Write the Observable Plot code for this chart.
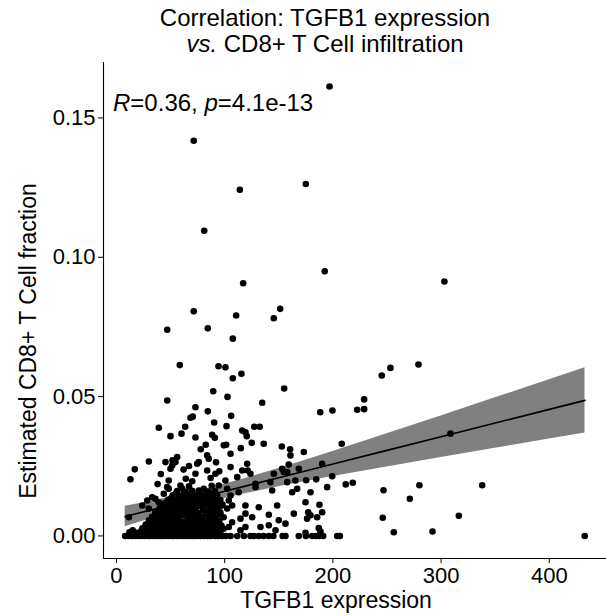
<!DOCTYPE html>
<html>
<head>
<meta charset="utf-8">
<script src="https://cdn.jsdelivr.net/npm/d3@7"></script>
<script src="https://cdn.jsdelivr.net/npm/@observablehq/plot@0.6"></script>
<style>
  body { margin: 0; background: #fff; }
  #wrap { position: relative; width: 606px; height: 616px; overflow: hidden;
          font-family: "Liberation Sans", Arial, sans-serif; color: #000; }
  #wrap svg { position: absolute; left: 0; top: 0; }
  .lbl { position: absolute; white-space: nowrap; text-align: center; }
  #title { left: 0; width: 650px; top: 5px; font-size: 24px; line-height: 26px; }
  #xlab { left: 136px; width: 400px; top: 587px; font-size: 23px; line-height: 26px; }
  #ylab { left: -172px; width: 400px; top: 328px; font-size: 23px; line-height: 26px; transform: rotate(-90deg); }
  #stat { left: 113px; top: 91px; font-size: 24px; line-height: 24px; text-align: left; }
</style>
</head>
<body>
<div id="wrap">
  <div id="chart"></div>
  <div class="lbl" id="title">Correlation: TGFB1 expression<br><i>vs.</i> CD8+ T Cell infiltration</div>
  <div class="lbl" id="xlab">TGFB1 expression</div>
  <div class="lbl" id="ylab">Estimated CD8+ T Cell fraction</div>
  <div class="lbl" id="stat"><i>R</i>=0.36, <i>p</i>=4.1e-13</div>
</div>
<script>
// ---- tick labels / axis settings ----
const xTicks = [0, 100, 200, 300, 400];
const yTicks = [0, 0.05, 0.10, 0.15];
const xDomain = [-12, 452.9];
const yDomain = [-0.0081, 0.1699];

// ---- samples with zero estimated CD8+ fraction (TGFB1 expression) ----
const zeroFractionTGFB1 = [8, 11, 14, 17, 20, 23, 26, 29, 31, 34, 37, 40, 42, 45, 48, 51, 53, 56, 59, 62,
  64, 67, 70, 72, 75, 78, 81, 84, 87, 91, 94, 97.5, 101, 105.4, 111.6, 117.7, 123.8, 127, 131.5, 136,
  140.8, 145, 153.6, 156.2, 168.5, 175, 180.9, 184.6, 187.6, 191, 204, 206.5, 432.8];

// ---- dense low-fraction cluster [TGFB1, CD8 fraction] ----
const denseCluster = [
  [12,.0013],[19,.0011],[27,.0014],[33,.0010],[39,.0013],[46,.0012],[52,.0015],[58,.0011],[65,.0013],[71,.0010],[77,.0014],[83,.0012],[90,.0011],[96,.0014],
  [24,.0027],[30,.0024],[36,.0028],[43,.0025],[49,.0027],[55,.0029],[61,.0024],[68,.0026],[74,.0028],[80,.0025],[86,.0027],[93,.0024],[99,.0026],
  [27,.0041],[34,.0038],[40,.0042],[47,.0040],[53,.0037],[59,.0043],[64,.0039],[71,.0041],[78,.0038],[84,.0042],[91,.0040],[97,.0037],
  [30,.0056],[37,.0053],[44,.0057],[50,.0054],[57,.0056],[62,.0052],[69,.0058],[75,.0055],[82,.0053],[88,.0057],[95,.0054],
  [33,.0069],[39,.0072],[46,.0068],[52,.0071],[60,.0073],[66,.0069],[72,.0071],[79,.0068],[86,.0072],[92,.0070],[99,.0067],
  [36,.0086],[43,.0083],[49,.0087],[55,.0084],[63,.0086],[69,.0088],[76,.0083],[83,.0085],[89,.0087],[96,.0084],
  [40,.0101],[46,.0098],[53,.0102],[59,.0099],[66,.0101],[73,.0097],[80,.0102],[87,.0100],[94,.0098],
  [44,.0116],[50,.0113],[57,.0117],[63,.0114],[70,.0116],[77,.0112],[84,.0117],[91,.0115],[98,.0113],
  [48,.0131],[55,.0128],[61,.0132],[68,.0129],[75,.0131],[82,.0128],[89,.0132],[96,.0129],
  [52,.0146],[58,.0143],[66,.0147],[72,.0144],[79,.0146],[87,.0143],[93,.0147],
  [56,.0161],[64,.0158],[70,.0162],[85,.0159],[91,.0161],
  [67,.0178],[88,.0180]
];
const denseClusterFill = [
  [15,.0020],[23,.0018],[30,.0019],[36,.0017],[42,.0020],[49,.0018],[55,.0019],[62,.0021],[68,.0018],[74,.0020],[80,.0017],[87,.0019],[93,.0020],
  [27,.0034],[33,.0032],[40,.0035],[46,.0033],[52,.0031],[58,.0034],[65,.0035],[71,.0032],[77,.0034],[83,.0033],[90,.0031],[96,.0035],
  [31,.0047],[37,.0049],[44,.0046],[50,.0048],[56,.0050],[62,.0046],[68,.0048],[75,.0047],[81,.0049],[88,.0046],[94,.0048],
  [34,.0063],[41,.0061],[47,.0064],[54,.0062],[66,.0063],[72,.0061],[79,.0064],[85,.0062],[92,.0060],
  [36,.0078],[43,.0076],[49,.0079],[56,.0077],[63,.0075],[69,.0078],[76,.0077],[83,.0079],[89,.0076],[96,.0078],
  [40,.0093],[46,.0091],[52,.0094],[59,.0092],[66,.0090],[72,.0093],[80,.0091],[86,.0094],[93,.0092],
  [43,.0108],[50,.0106],[56,.0109],[62,.0107],[69,.0105],[76,.0108],[83,.0110],[90,.0106],[97,.0108],
  [47,.0123],[53,.0121],[60,.0124],[66,.0122],[73,.0120],[80,.0123],[87,.0121],[94,.0124],
  [51,.0138],[58,.0136],[64,.0139],[71,.0137],[78,.0135],[85,.0138],[92,.0136],
  [55,.0153],[62,.0151],[69,.0154],[76,.0152],[83,.0150],[90,.0153]
];

// ---- remaining individually read samples [TGFB1, CD8 fraction] ----
const scatteredSamples = [
  [196.9,0.1613],[71.4,0.1418],[114.0,0.1242],[175.0,0.1263],[81.1,0.1095],[192.5,0.0950],[117.1,0.0907],[71.4,0.0806],[110.6,0.0791],[151.3,0.0815],[145.4,0.0781],[46.9,0.0740],[84.4,0.0745],[107.5,0.0708],
  [58.5,0.0613],[94.3,0.0609],[100.7,0.0605],[89.4,0.0519],[46.9,0.0486],[102.6,0.0499],[73.0,0.0462],[84.4,0.0447],[68.4,0.0424],[70.5,0.0428],[90.3,0.0407],[39.1,0.0388],[63.5,0.0392],[101.7,0.0394],[49.9,0.0358],[60.1,0.0367],[73.0,0.0353],[88.4,0.0363],[90.9,0.0352],[82.5,0.0327],[77.9,0.0311],[101.4,0.0327],
  [115.5,0.0582],[107.5,0.0566],[155.0,0.0529],[134.7,0.0478],[188.3,0.0444],[199.6,0.0450],[106.0,0.0431],[116.2,0.0378],[119.2,0.0372],[120.4,0.0358],[127.3,0.0392],[132.4,0.0392],[114.9,0.0315],[125.0,0.0334],[136.1,0.0331],[152.8,0.0321],[160.5,0.0311],[208.2,0.0331],
  [303.1,0.0913],[245.2,0.0576],[253.2,0.0603],[279.1,0.0615],[222.5,0.0453],[228.9,0.0455],[228.9,0.0490],[308.7,0.0367],[211.9,0.0185],[218.4,0.0191],[246.8,0.0164],[280.0,0.0182],[338.0,0.0182],[271.1,0.0133],[246.1,0.0065],[316.4,0.0072],[256.3,0.0013],[292.1,0.0016],
  [159.2,0.0256],[168.5,0.0241],[190.1,0.0259],[157.8,0.0229],[165.4,0.0199],[175.3,0.0200],[184.6,0.0203],[199.4,0.0214],[167.0,0.0169],[162.4,0.0157],[194.7,0.0175],[174.7,0.0121],[187.6,0.0112],[163.9,0.0080],[177.2,0.0085],[179.3,0.0074],[176.2,0.0062],[185.5,0.0067],[190.1,0.0085],[156.2,0.0044],[187.0,0.0028],[188.5,0.0016],[174.7,0.0011],
  [105.4,0.0247],[116.2,0.0235],[121.3,0.0235],[123.8,0.0223],[120.8,0.0259],[111.6,0.0211],[100.7,0.0199],[128.5,0.0187],[128.5,0.0175],[143.9,0.0163],[113.0,0.0157],[105.4,0.0145],[103.8,0.0127],[106.9,0.0109],[102.3,0.0098],[119.2,0.0109],[131.5,0.0103],[148.5,0.0109],[125.4,0.0067],[114.6,0.0062],[140.8,0.0076],[150.0,0.0056],[106.9,0.0049],[103.8,0.0032],[119.2,0.0032],[114.6,0.0020],[133.1,0.0032],[140.8,0.0038],[147.0,0.0020],
  [56.1,0.0283],[54.5,0.0265],[76.1,0.0265],[85.3,0.0277],[83.8,0.0235],[73.0,0.0223],[48.3,0.0199],[59.1,0.0181],[60.7,0.0169],[48.3,0.0169],[76.1,0.0163],[80.7,0.0169],[94.5,0.0181],[102.3,0.0169],
  [29.9,0.0267],[16.9,0.0239],[12.9,0.0203],[45.3,0.0265],[46.9,0.0175],[43.7,0.0151],[28.4,0.0127],[33.0,0.0139],[36.0,0.0133],[39.1,0.0121],[23.8,0.0109],[29.9,0.0098],[11.4,0.0067],
  [51.8,0.0271],[51.5,0.0253],[49.9,0.0241],[83.8,0.0289],[74.6,0.0259],[91.5,0.0223],[99.2,0.0325],
  [160.8,0.0289],[105.4,0.0295],[173.1,0.0301],[145.4,0.0223],[153.1,0.0241],[154.6,0.0229],[142.3,0.0193],[157.8,0.0193],[179.3,0.0157],[119.2,0.0080],
  [64,0.0205],[70,0.0196],[87,0.0208],[95,0.0232],[62,0.0238],[67,0.0251],[92,0.0264],[41,0.0222],[38,0.0186]
];

// ---- linear fit and 95% confidence band ----
const fitTGFB1 = [8, 30, 60, 90, 120, 160, 200, 250, 300, 350, 400, 433];
const fitCD8   = [0.00697, 0.00913, 0.01207, 0.01502, 0.01796, 0.02188, 0.02580, 0.03071, 0.03561, 0.04051, 0.04542, 0.04865];
const fitLower = [0.00333, 0.00598, 0.00940, 0.01252, 0.01524, 0.01842, 0.02132, 0.02478, 0.02815, 0.03147, 0.03477, 0.03694];
const fitUpper = [0.01061, 0.01228, 0.01474, 0.01752, 0.02068, 0.02534, 0.03028, 0.03664, 0.04307, 0.04955, 0.05607, 0.06036];

// ---- build tables ----
const points = [
  ...zeroFractionTGFB1.map(x => ({x, y: 0})),
  ...denseCluster.map(([x, y]) => ({x, y})),
  ...denseClusterFill.map(([x, y]) => ({x, y})),
  ...scatteredSamples.map(([x, y]) => ({x, y}))
];
const fit = fitTGFB1.map((x, i) => ({x, y: fitCD8[i], lo: fitLower[i], hi: fitUpper[i]}));

const chart = Plot.plot({
  width: 606,
  height: 616,
  marginLeft: 103,
  marginRight: 0,
  marginTop: 62,
  marginBottom: 58,
  style: {fontFamily: "'Liberation Sans', Arial, sans-serif", fontSize: "22px", background: "white", color: "black"},
  x: {domain: xDomain, label: null},
  y: {domain: yDomain, label: null},
  marks: [
    Plot.areaY(fit, {x: "x", y1: "lo", y2: "hi", fill: "#808080"}),
    Plot.dot(points, {x: "x", y: "y", r: 3.3, fill: "black", stroke: "none"}),
    Plot.lineY(fit, {x: "x", y: "y", stroke: "black", strokeWidth: 1.6}),
    Plot.ruleX([xDomain[0]], {stroke: "black", strokeWidth: 1.1}),
    Plot.ruleY([yDomain[0]], {stroke: "black", strokeWidth: 1.1}),
    Plot.axisX({ticks: xTicks, tickSize: 5, tickPadding: 4, fontSize: 22, label: null, tickFormat: d => String(d)}),
    Plot.axisY({ticks: yTicks, tickSize: 5, tickPadding: 3, fontSize: 22, label: null, tickFormat: d => d.toFixed(2)})
  ]
});
document.getElementById("chart").appendChild(chart);
</script>
</body>
</html>
